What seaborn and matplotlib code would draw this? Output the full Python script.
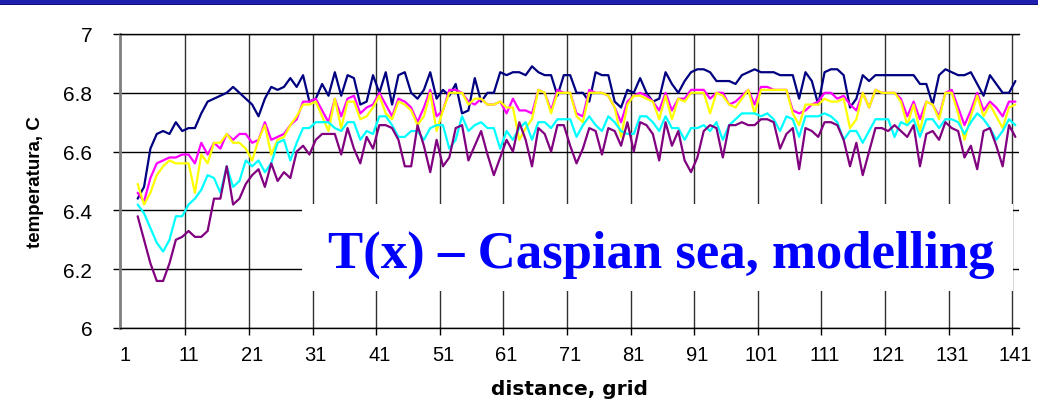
import numpy as np
import pandas as pd
import matplotlib
matplotlib.use("Agg")
import matplotlib.pyplot as plt
from matplotlib.patches import Rectangle
import seaborn as sns

# ---------------- data ----------------
distance = list(range(3, 142))

navy_vals = [6.44, 6.48, 6.61, 6.66, 6.67, 6.66, 6.70, 6.67, 6.68, 6.68, 6.73, 6.77, 6.78, 6.79, 6.80, 6.82, 6.80, 6.78, 6.76, 6.72, 6.78, 6.82,
             6.81, 6.82, 6.85, 6.82, 6.86, 6.77, 6.78, 6.83, 6.79, 6.87, 6.79, 6.86, 6.85, 6.76, 6.77, 6.86, 6.80, 6.87, 6.76, 6.86, 6.87, 6.80,
             6.78, 6.81, 6.87, 6.78, 6.81, 6.79, 6.83, 6.73, 6.74, 6.85, 6.77, 6.80, 6.80, 6.87, 6.86, 6.87, 6.87, 6.86, 6.89, 6.87, 6.86, 6.86, 6.79,
             6.86, 6.86, 6.80, 6.80, 6.77, 6.87, 6.86, 6.86, 6.77, 6.75, 6.81, 6.80, 6.85, 6.80, 6.77, 6.78, 6.87, 6.83, 6.80, 6.84, 6.87, 6.88, 6.88,
             6.87, 6.84, 6.84, 6.84, 6.83, 6.86, 6.87, 6.88, 6.87, 6.87, 6.87, 6.86, 6.86, 6.86, 6.78, 6.87, 6.84, 6.76, 6.87, 6.88, 6.88, 6.86,
             6.75, 6.78, 6.86, 6.84, 6.86, 6.86, 6.86, 6.86, 6.86, 6.86, 6.86, 6.83, 6.83, 6.76, 6.86, 6.88, 6.87, 6.86, 6.86, 6.87, 6.83, 6.79, 6.86, 6.83, 6.80, 6.80, 6.84]

magenta_vals = [6.46, 6.43, 6.51, 6.56, 6.57, 6.58, 6.58, 6.59, 6.59, 6.56, 6.63, 6.59, 6.63, 6.61, 6.66, 6.64, 6.66, 6.66, 6.63, 6.64, 6.70, 6.64,
                6.65, 6.66, 6.69, 6.71, 6.77, 6.77, 6.78, 6.74, 6.70, 6.78, 6.72, 6.78, 6.79, 6.73, 6.75, 6.76, 6.80, 6.76, 6.72, 6.78, 6.77, 6.75,
                6.70, 6.75, 6.81, 6.72, 6.74, 6.81, 6.81, 6.80, 6.77, 6.76, 6.78, 6.76, 6.76, 6.77, 6.73, 6.78, 6.74, 6.74, 6.73, 6.81, 6.80, 6.74, 6.81,
                6.80, 6.80, 6.73, 6.72, 6.81, 6.80, 6.80, 6.79, 6.75, 6.70, 6.77, 6.79, 6.80, 6.79, 6.77, 6.74, 6.80, 6.74, 6.78, 6.78, 6.81, 6.81, 6.81,
                6.78, 6.80, 6.80, 6.76, 6.77, 6.79, 6.81, 6.76, 6.82, 6.82, 6.81, 6.81, 6.81, 6.74, 6.73, 6.74, 6.76, 6.77, 6.80, 6.80, 6.78, 6.79,
                6.76, 6.74, 6.80, 6.75, 6.81, 6.80, 6.80, 6.80, 6.78, 6.72, 6.77, 6.71, 6.77, 6.76, 6.72, 6.80, 6.81, 6.75, 6.69, 6.74, 6.80, 6.74, 6.77, 6.75, 6.72, 6.77, 6.77]

yellow_vals = [6.49, 6.42, 6.46, 6.52, 6.55, 6.57, 6.56, 6.56, 6.56, 6.46, 6.59, 6.56, 6.63, 6.63, 6.66, 6.63, 6.63, 6.61, 6.57, 6.64, 6.69, 6.59,
               6.64, 6.65, 6.69, 6.72, 6.76, 6.76, 6.77, 6.72, 6.67, 6.78, 6.68, 6.77, 6.77, 6.71, 6.72, 6.75, 6.79, 6.73, 6.71, 6.77, 6.76, 6.74,
               6.69, 6.72, 6.80, 6.67, 6.74, 6.80, 6.80, 6.80, 6.76, 6.78, 6.78, 6.76, 6.76, 6.77, 6.75, 6.75, 6.64, 6.68, 6.71, 6.81, 6.80, 6.73, 6.80,
               6.80, 6.80, 6.72, 6.70, 6.80, 6.80, 6.80, 6.79, 6.75, 6.65, 6.76, 6.79, 6.79, 6.78, 6.77, 6.71, 6.79, 6.71, 6.78, 6.77, 6.80, 6.80, 6.80,
               6.73, 6.80, 6.79, 6.76, 6.75, 6.78, 6.81, 6.73, 6.81, 6.81, 6.81, 6.81, 6.81, 6.73, 6.69, 6.76, 6.76, 6.76, 6.78, 6.77, 6.77, 6.78,
               6.68, 6.71, 6.80, 6.75, 6.81, 6.80, 6.80, 6.80, 6.77, 6.69, 6.76, 6.67, 6.77, 6.76, 6.71, 6.80, 6.80, 6.73, 6.64, 6.72, 6.79, 6.72, 6.76, 6.72, 6.68, 6.75, 6.76]

cyan_vals = [6.42, 6.39, 6.34, 6.29, 6.26, 6.30, 6.38, 6.38, 6.42, 6.44, 6.47, 6.52, 6.51, 6.46, 6.55, 6.48, 6.50, 6.57, 6.55, 6.57, 6.53, 6.56,
             6.63, 6.64, 6.57, 6.63, 6.68, 6.68, 6.70, 6.70, 6.70, 6.68, 6.67, 6.70, 6.70, 6.64, 6.67, 6.66, 6.72, 6.72, 6.69, 6.65, 6.65, 6.67,
             6.67, 6.64, 6.68, 6.69, 6.69, 6.61, 6.64, 6.72, 6.67, 6.69, 6.70, 6.68, 6.68, 6.61, 6.67, 6.64, 6.68, 6.70, 6.64, 6.70, 6.70, 6.68, 6.71,
             6.71, 6.71, 6.65, 6.69, 6.72, 6.69, 6.67, 6.72, 6.70, 6.67, 6.66, 6.66, 6.72, 6.72, 6.70, 6.67, 6.72, 6.68, 6.68, 6.64, 6.68, 6.68, 6.69,
             6.67, 6.70, 6.64, 6.69, 6.71, 6.73, 6.73, 6.73, 6.72, 6.73, 6.71, 6.67, 6.72, 6.71, 6.65, 6.72, 6.72, 6.72, 6.73, 6.72, 6.70, 6.64,
             6.67, 6.67, 6.63, 6.67, 6.71, 6.71, 6.71, 6.65, 6.70, 6.69, 6.71, 6.65, 6.71, 6.71, 6.68, 6.71, 6.71, 6.70, 6.66, 6.70, 6.73, 6.71, 6.68, 6.64, 6.67, 6.71, 6.69]

purple_vals = [6.38, 6.30, 6.22, 6.16, 6.16, 6.22, 6.30, 6.31, 6.33, 6.31, 6.31, 6.33, 6.44, 6.44, 6.55, 6.42, 6.44, 6.49, 6.52, 6.54, 6.48, 6.56,
               6.50, 6.53, 6.51, 6.60, 6.62, 6.59, 6.64, 6.66, 6.66, 6.66, 6.59, 6.68, 6.61, 6.56, 6.65, 6.61, 6.69, 6.69, 6.68, 6.64, 6.55, 6.55,
               6.69, 6.62, 6.53, 6.64, 6.55, 6.58, 6.68, 6.69, 6.57, 6.62, 6.67, 6.59, 6.52, 6.58, 6.64, 6.60, 6.70, 6.64, 6.55, 6.68, 6.66, 6.60, 6.69,
               6.69, 6.62, 6.56, 6.61, 6.68, 6.67, 6.59, 6.68, 6.67, 6.62, 6.70, 6.60, 6.70, 6.69, 6.66, 6.57, 6.70, 6.62, 6.67, 6.57, 6.53, 6.58, 6.67,
               6.69, 6.68, 6.58, 6.69, 6.69, 6.70, 6.69, 6.69, 6.71, 6.71, 6.70, 6.61, 6.66, 6.68, 6.54, 6.68, 6.67, 6.65, 6.70, 6.70, 6.69, 6.64,
               6.55, 6.63, 6.52, 6.60, 6.68, 6.68, 6.67, 6.69, 6.67, 6.65, 6.69, 6.55, 6.66, 6.67, 6.64, 6.70, 6.68, 6.67, 6.58, 6.62, 6.54, 6.67, 6.68, 6.62, 6.55, 6.69, 6.65]

series_names = ["navy", "magenta", "yellow", "cyan", "purple"]
series_colors = ["#000080", "#FF00FF", "#FFFF00", "#00FFFF", "#800080"]

x_tick_labels = ["1", "11", "21", "31", "41", "51", "61", "71", "81", "91", "101", "111", "121", "131", "141"]
x_tick_pos = [1, 11, 21, 31, 41, 51, 61, 71, 81, 91, 101, 111, 121, 131, 141]
y_ticks = [6.0, 6.2, 6.4, 6.6, 6.8, 7.0]
y_tick_labels = ["6", "6.2", "6.4", "6.6", "6.8", "7"]

title_text = "T(x) \u2013 Caspian sea, modelling"
x_label = "distance, grid"
y_label = "temperatura, C"

# ---------------- frame ----------------
df = pd.concat([
    pd.DataFrame({"distance": distance, "temp": vals, "series": name})
    for name, vals in zip(series_names, [navy_vals, magenta_vals, yellow_vals, cyan_vals, purple_vals])
], ignore_index=True)

sns.set_style("white")
plt.rcParams["font.family"] = ["Liberation Sans", "DejaVu Sans"]
plt.rcParams.update({"text.color": "black", "axes.labelcolor": "black",
                     "xtick.color": "black", "ytick.color": "black"})

W, H = 1038, 406
fig = plt.figure(figsize=(W / 100, H / 100), dpi=100)
ax_l, ax_r, ax_t, ax_b = 120, 1019, 35, 329
ax = fig.add_axes([ax_l / W, 1 - ax_b / H, (ax_r - ax_l) / W, (ax_b - ax_t) / H])

sns.lineplot(data=df, x="distance", y="temp", hue="series", hue_order=series_names,
             palette=series_colors, legend=False, linewidth=1.6, ax=ax, zorder=5)

ax.set_xlim(0.22, 141.57)
ax.set_ylim(6.0, 7.0)

# vertical gridlines at category boundaries
ax.set_xticks([p - 0.5 for p in x_tick_pos[1:]])
ax.set_xticklabels([])
ax.set_xticks(x_tick_pos, minor=True)
ax.set_xticklabels(x_tick_labels, minor=True, fontsize=14.5, color="black")
ax.tick_params(axis="x", which="major", length=5, width=1, color="black", direction="out", bottom=True)
ax.tick_params(axis="x", which="minor", length=0, pad=12)
ax.xaxis.grid(True, which="major", color="#303030", linewidth=1)

ax.set_yticks(y_ticks)
ax.set_yticklabels(y_tick_labels, fontsize=15, color="black")
ax.tick_params(axis="y", length=5, width=1, color="black", direction="out", left=True, pad=15)
ax.yaxis.grid(True, color="black", linewidth=1)

for s in ["top", "bottom"]:
    ax.spines[s].set_visible(True)
    ax.spines[s].set_color("black")
    ax.spines[s].set_linewidth(1)
ax.spines["right"].set_visible(False)
ax.spines["left"].set_color("#808080")
ax.spines["left"].set_linewidth(2)

ax.set_xlabel(x_label, fontsize=14.5, fontweight="bold", labelpad=11,
              family=["DejaVu Sans"], color="black")
ax.set_ylabel(y_label, fontsize=13.5, fontweight="bold", labelpad=14, color="black")

# white caption box
bx0, bx1, by0, by1 = 302, 1013, 205, 292
ax.add_patch(Rectangle(((bx0 - ax_l) / (ax_r - ax_l), (ax_b - by1) / (ax_b - ax_t)),
                       (bx1 - bx0) / (ax_r - ax_l), (by1 - by0) / (ax_b - ax_t),
                       transform=ax.transAxes, facecolor="white", edgecolor="none", zorder=3))
ax.text((661 - ax_l) / (ax_r - ax_l), (ax_b - 268) / (ax_b - ax_t), title_text,
        transform=ax.transAxes, ha="center", va="baseline", color="#0000FF",
        fontsize=38, fontweight="bold", family=["Liberation Serif", "DejaVu Serif"], zorder=6)

# slide header band
fig.patches.append(Rectangle((0, 1 - 6 / H), 1, 6 / H, transform=fig.transFigure,
                             facecolor="#1f1fb0", edgecolor="none"))
fig.patches.append(Rectangle((0, 1 - 6 / H), 1, 1.5 / H, transform=fig.transFigure,
                             facecolor="#10107a", edgecolor="none"))

fig.savefig("out.png", dpi=100)
